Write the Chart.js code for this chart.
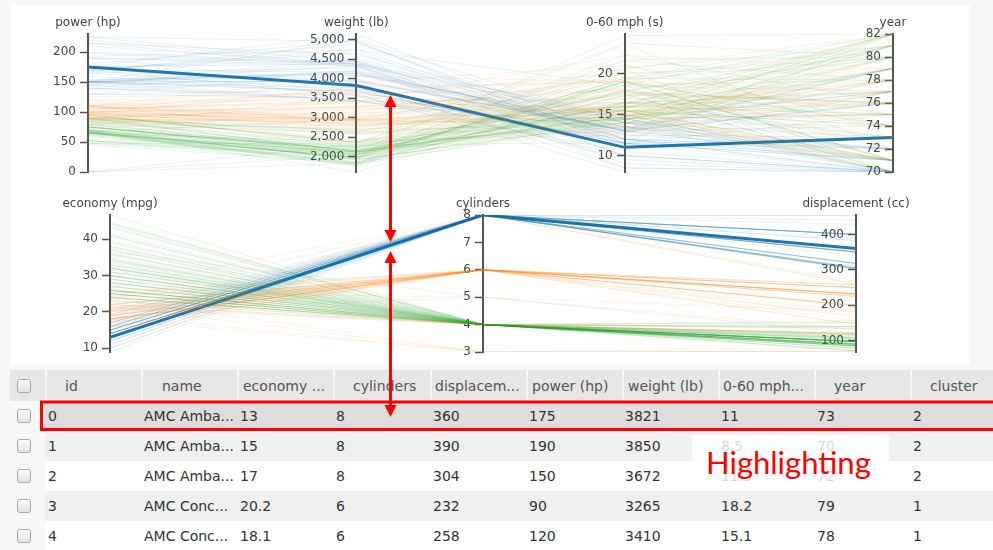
<!DOCTYPE html>
<html>
<head>
<meta charset="utf-8">
<script src="https://cdn.jsdelivr.net/npm/chart.js@4.4.1/dist/chart.umd.min.js"></script>
<style>
  html, body { margin: 0; padding: 0; }
  body {
    width: 993px; height: 550px; position: relative; overflow: hidden;
    background: #f7f7f7; font-family: "DejaVu Sans", Verdana, sans-serif;
  }
  #panel { position: absolute; left: 10px; top: 5px; width: 960px; height: 360px; background: #fff; }
  canvas { position: absolute; left: 0; }
  #topChart { top: 0; }
  #bottomChart { top: 185px; }
  #grid {
    position: absolute; left: 10px; top: 370px; border-collapse: collapse; table-layout: fixed;
    width: 996px; font-size: 14px; color: #333;
  }
  #grid th, #grid td { padding: 0; white-space: nowrap; overflow: hidden; text-align: left; font-weight: normal; }
  #grid th { height: 31px; background: #e6e6e6; color: #555; box-shadow: inset 2px 0 0 #f6f6f6; }
  #grid th:first-child { box-shadow: none; }
  #grid td { height: 30px; padding-left: 3px; background: #fff; }
  #grid tr.odd td { background: #f0f0f0; }
  #grid tr.sel td { background: #dedede; }
  #grid td.cb, #grid tr.sel td.cb, #grid tr.odd td.cb { background: #f7f7f7; padding-left: 0; }
  .box {
    width: 12px; height: 12px; margin-left: 7px; border: 1px solid #a8a8a8; border-radius: 3px;
    background: linear-gradient(#fdfdfd, #e2e2e2);
  }
  #note {
    position: absolute; left: 692px; top: 435px; width: 197px; height: 53px;
    background: rgba(255, 255, 255, 0.82);
  }
  #noteText {
    position: absolute; left: 706px; top: 447px; font-family: Lato, "Open Sans", sans-serif;
    font-size: 31px; line-height: 30px; color: #ff0000; white-space: nowrap;
  }
  #marks { position: absolute; left: 0; top: 0; pointer-events: none; }
</style>
</head>
<body>
<div id="panel"></div>
<canvas id="topChart" width="993" height="185"></canvas>
<canvas id="bottomChart" width="993" height="180"></canvas>
<table id="grid"><colgroup></colgroup><thead></thead><tbody></tbody></table>
<div id="note"></div>
<div id="noteText">Highlighting</div>
<svg id="marks" width="993" height="550">
  <rect x="41.5" y="402" width="1000" height="27.5" fill="none" stroke="#ff0000" stroke-width="3"/>
  <line x1="390.5" y1="106" x2="390.5" y2="231" stroke="#ff0000" stroke-width="3"/>
  <polygon points="390.5,95 384.5,107 396.5,107" fill="#ff0000"/>
  <polygon points="390.5,242 384.5,230 396.5,230" fill="#ff0000"/>
  <line x1="390.5" y1="262" x2="390.5" y2="406" stroke="#ff0000" stroke-width="3"/>
  <polygon points="390.5,251 384.5,263 396.5,263" fill="#ff0000"/>
  <polygon points="390.5,417 384.5,405 396.5,405" fill="#ff0000"/>
</svg>
<script>
// Cars: the same index refers to the same car in every array
const economy = [
  13, 15, 17, 20.2, 18.1, 24, 18, 27, 18, 15,
  26, 21, 14, 25, 14, 22, 9, 27, 14, 25,
  19, 10, 35, 16, 14, 31, 19, 13, 28, 18,
  12, 26, 21, 13, 23, 16, 15, 24, 18, 13,
  22, 24, 12, 32, 21, 11, 31, 20, 12, 26,
  15, 13, 24, 18, 16, 25, 21, 15, 29, 24,
  16, 29, 19, 17, 30, 22, 16, 31.5, 17.5, 15,
  33.5, 20.5, 16, 30, 21.5, 15.5, 36, 19.4, 19.2, 43.1,
  20.6, 20.2, 32.8, 20.3, 18.5, 39.4, 27.2, 16.5, 37.3, 25.4,
  17.6, 28.4, 23, 10, 31.9, 19.2, 11, 34.1, 17, 14,
  35.7, 26.6, 14, 41.5, 25.4, 13, 46.6, 24.2, 13, 44.3,
  22, 14, 43.4, 25, 15, 36.4, 21.5, 14, 40.8, 22,
  15, 44.6, 23.7, 15, 29.8, 23.6, 14, 40.9, 18, 16,
  34.4, 20, 29.9, 17, 33, 18, 37, 14, 32.3, 19,
  38, 13, 44, 22, 36, 32, 28, 31, 27, 38,
  34, 34.5, 23, 39, 25.8, 26, 28, 25, 24, 29,
  26, 30, 32, 28, 33, 25, 20, 18, 19, 16, 17
];
const cylinders = [
  8, 8, 8, 6, 6, 4, 8, 4, 6, 8,
  4, 6, 8, 4, 8, 6, 8, 4, 8, 4,
  6, 8, 4, 6, 8, 4, 3, 8, 4, 6,
  8, 4, 4, 8, 4, 6, 8, 4, 6, 8,
  4, 4, 8, 4, 6, 8, 4, 6, 8, 4,
  6, 8, 4, 6, 8, 4, 6, 8, 4, 6,
  8, 4, 6, 8, 4, 6, 8, 4, 6, 8,
  4, 6, 8, 4, 3, 8, 4, 6, 8, 4,
  6, 8, 4, 5, 8, 4, 4, 8, 4, 5,
  8, 4, 8, 8, 4, 8, 8, 4, 8, 8,
  4, 8, 8, 4, 6, 8, 4, 6, 8, 4,
  6, 8, 4, 6, 8, 5, 4, 8, 4, 4,
  8, 4, 3, 8, 4, 4, 8, 4, 3, 8,
  4, 6, 4, 8, 4, 6, 4, 8, 4, 6,
  4, 8, 4, 6, 4, 4, 4, 4, 4, 4,
  4, 4, 4, 4, 4, 4, 4, 4, 4, 4,
  4, 4, 4, 4, 4, 4, 6, 6, 6, 6, 6
];
const displacement = [
  360, 390, 304, 232, 258, 113, 307, 97, 199, 350,
  97, 200, 454, 110, 440, 198, 304, 97, 455, 98,
  250, 360, 72, 225, 351, 71, 70, 400, 116, 258,
  383, 96, 120, 350, 97, 250, 318, 116, 232, 400,
  108, 121, 400, 71, 200, 400, 79, 198, 455, 79,
  250, 350, 90, 225, 400, 90, 231, 350, 90, 200,
  318, 97, 156, 305, 97, 146, 318, 98, 250, 400,
  98, 231, 351, 111, 80, 350, 98, 232, 305, 90,
  231, 302, 78, 131, 360, 85, 119, 351, 91, 183,
  302, 151, 260, 307, 89, 267, 318, 86, 260, 400,
  98, 350, 318, 98, 168, 307, 86, 146, 400, 90,
  232, 400, 90, 181, 383, 121, 121, 340, 85, 121,
  400, 91, 70, 429, 89, 140, 351, 85, 70, 304,
  98, 225, 98, 302, 105, 250, 85, 304, 97, 232,
  105, 318, 97, 225, 135, 135, 120, 119, 140, 91,
  108, 100, 151, 86, 156, 116, 140, 104, 107, 85,
  98, 88, 83, 97, 91, 140, 232, 171, 250, 258, 231
];
const power = [
  175, 190, 150, 90, 120, 95, 130, 88, 97, 165,
  46, 85, 220, 87, 215, 95, 193, 60, 225, 0,
  88, 215, 69, 105, 153, 65, 97, 175, 90, 110,
  180, 69, 87, 165, 54, 100, 150, 75, 100, 190,
  94, 110, 167, 65, 88, 150, 67, 95, 225, 67,
  72, 145, 75, 95, 170, 71, 110, 145, 70, 81,
  150, 75, 108, 140, 67, 97, 150, 68, 110, 190,
  83, 105, 149, 80, 110, 170, 66, 90, 145, 48,
  105, 139, 52, 103, 150, 70, 97, 138, 69, 77,
  129, 90, 90, 200, 71, 125, 210, 65, 110, 175,
  80, 105, 150, 76, 116, 130, 65, 120, 170, 48,
  112, 175, 48, 110, 170, 67, 110, 160, 65, 98,
  150, 67, 100, 198, 62, 88, 153, 0, 90, 150,
  65, 100, 65, 140, 74, 88, 65, 150, 67, 100,
  63, 150, 52, 100, 84, 84, 79, 82, 86, 67,
  70, 0, 84, 64, 92, 75, 90, 95, 90, 52,
  79, 76, 61, 75, 53, 92, 100, 97, 100, 110, 110
];
const weight = [
  3821, 3850, 3672, 3265, 3410, 2372, 3504, 2130, 2774, 3693,
  1835, 2587, 4354, 2672, 4312, 2833, 4732, 1834, 4425, 2046,
  3302, 4615, 1613, 3439, 4154, 1773, 2330, 5140, 2123, 2962,
  4955, 2189, 2979, 4274, 2254, 3278, 4135, 2158, 2945, 4422,
  2379, 2660, 4906, 1836, 2875, 4997, 1950, 3102, 4951, 1963,
  3158, 3988, 2108, 3785, 4668, 2223, 3039, 4440, 1937, 3012,
  4498, 2171, 2930, 4215, 1985, 2815, 4190, 2045, 3520, 4325,
  2075, 3425, 4335, 2155, 2720, 4165, 1800, 3210, 3425, 1985,
  3380, 3570, 1985, 2830, 3940, 2070, 2300, 3955, 2130, 3530,
  3725, 2670, 3420, 4376, 1925, 3605, 4382, 1975, 4060, 4464,
  1915, 3725, 4096, 2144, 2900, 4098, 2110, 2930, 4746, 2085,
  2835, 4385, 2335, 2945, 3563, 2950, 2600, 3609, 2110, 2945,
  3761, 1850, 2420, 4341, 1845, 2905, 4129, 1835, 2124, 3433,
  2045, 3651, 2380, 3449, 2190, 3139, 1975, 3672, 2065, 2634,
  2125, 3940, 2130, 3233, 2370, 2295, 2625, 2720, 2790, 1995,
  2245, 2320, 3035, 1875, 2620, 2246, 2264, 2375, 2430, 2035,
  2255, 2065, 2003, 2155, 1795, 2572, 2914, 2984, 3282, 3632, 3907
];
const accel = [
  11, 8.5, 11.5, 18.2, 15.1, 15, 12, 14.5, 15.5, 11.5,
  20.5, 16, 9, 17.5, 8.5, 15.5, 18.5, 19, 10, 19,
  15.5, 14, 18, 15.5, 13.5, 19, 13.5, 12, 14, 13.5,
  11.5, 18, 19.5, 12, 23.5, 18, 13.5, 15.5, 16, 12.5,
  16.5, 14, 12.5, 21, 17, 14, 19, 16.5, 11, 15.5,
  19.5, 13, 15.5, 19, 11.5, 16.5, 15, 14, 14, 17.6,
  14.5, 16, 15.5, 13, 16.4, 14.5, 13, 18.5, 16.4, 12.2,
  15.9, 16.9, 14.5, 14.8, 13.5, 11.4, 14.4, 17.2, 13.2, 21.5,
  15.8, 12.8, 19.4, 15.9, 13, 18.6, 14.7, 13.2, 14.7, 20.1,
  13.4, 16, 22.2, 15, 14, 15, 13.5, 15.2, 19, 11.5,
  14.4, 19, 13, 14.7, 12.6, 14, 17.9, 13.8, 12, 21.7,
  14.7, 12, 23.7, 16.4, 10, 19.9, 12.8, 8, 19.2, 14.5,
  9.5, 13.8, 12.5, 10, 15.3, 14.3, 13, 17.3, 13.5, 12,
  16.2, 17.7, 20.7, 10.5, 14.2, 14.5, 19.4, 11.5, 17.8, 13,
  14.7, 13.2, 24.6, 15.4, 13, 11.6, 18.6, 19.4, 15.6, 16.2,
  16.9, 15.8, 20.5, 16.4, 14.4, 14, 15.5, 17.5, 14.5, 22.2,
  17.7, 14.5, 19, 16.4, 17.4, 14.9, 16, 14.5, 15, 18, 21
];
const year = [
  73, 70, 72, 79, 78, 70, 70, 70, 70, 70,
  70, 70, 70, 70, 70, 70, 70, 71, 70, 71,
  71, 70, 71, 71, 71, 71, 72, 71, 71, 71,
  71, 72, 72, 72, 72, 73, 72, 73, 73, 72,
  73, 73, 73, 74, 74, 73, 74, 74, 73, 74,
  75, 74, 74, 75, 75, 75, 75, 75, 76, 76,
  75, 75, 76, 76, 77, 77, 76, 77, 77, 77,
  77, 77, 77, 77, 77, 77, 78, 78, 78, 78,
  78, 78, 78, 78, 79, 78, 78, 79, 79, 79,
  79, 79, 79, 70, 79, 79, 70, 79, 77, 71,
  79, 81, 71, 80, 81, 72, 80, 81, 71, 80,
  82, 72, 80, 82, 70, 80, 77, 70, 80, 75,
  70, 80, 80, 70, 80, 80, 72, 80, 73, 70,
  81, 76, 81, 70, 81, 71, 81, 73, 81, 71,
  82, 76, 82, 76, 82, 82, 82, 82, 82, 82,
  82, 81, 82, 81, 81, 74, 71, 70, 70, 76,
  76, 71, 74, 76, 76, 76, 75, 75, 71, 74, 75
];
const cluster = [
  2, 2, 2, 1, 1, 0, 2, 0, 1, 2,
  0, 1, 2, 0, 2, 1, 2, 0, 2, 0,
  1, 2, 0, 1, 2, 0, 1, 2, 0, 1,
  2, 0, 1, 2, 0, 1, 2, 0, 1, 2,
  0, 1, 2, 0, 1, 2, 0, 1, 2, 0,
  1, 2, 0, 1, 2, 0, 1, 2, 0, 1,
  2, 0, 1, 2, 0, 1, 2, 0, 1, 2,
  0, 1, 2, 0, 1, 2, 0, 1, 2, 0,
  1, 2, 0, 1, 2, 0, 1, 2, 0, 1,
  2, 0, 1, 2, 0, 1, 2, 0, 1, 2,
  0, 1, 2, 0, 1, 2, 0, 1, 2, 0,
  1, 2, 0, 1, 2, 0, 1, 2, 0, 1,
  2, 0, 1, 2, 0, 1, 2, 0, 1, 2,
  0, 1, 0, 2, 0, 1, 0, 2, 0, 1,
  0, 2, 0, 1, 0, 0, 0, 0, 0, 0,
  0, 0, 1, 0, 0, 0, 0, 0, 0, 0,
  0, 0, 0, 0, 0, 0, 1, 1, 1, 1, 1
];
const carNames = ['AMC Amba...', 'AMC Amba...', 'AMC Amba...', 'AMC Conc...', 'AMC Conc...'];

// Axis domains and tick values
const powerRange = [0, 230];
const powerTicks = [0, 50, 100, 150, 200];
const weightRange = [1613, 5140];
const weightTicks = [2000, 2500, 3000, 3500, 4000, 4500, 5000];
const accelRange = [8, 24.8];
const accelTicks = [10, 15, 20];
const yearRange = [70, 82];
const yearTicks = [70, 72, 74, 76, 78, 80, 82];
const economyRange = [9, 46.6];
const economyTicks = [10, 20, 30, 40];
const cylinderRange = [3, 8];
const cylinderTicks = [3, 4, 5, 6, 7, 8];
const displacementRange = [68, 455];
const displacementTicks = [100, 200, 300, 400];

// Table columns and the rows it lists
const tableHeaders = ['id', 'name', 'economy ...', 'cylinders', 'displacem...', 'power (hp)', 'weight (lb)', '0-60 mph...', 'year', 'cluster'];
const tableRows = [0, 1, 2, 3, 4];
const selectedCar = 0;

const clusterRGB = ['44,160,44', '255,127,14', '31,119,180'];
const AXIS_FONT = '12px "DejaVu Sans", Verdana, sans-serif';

Chart.defaults.font.family = '"DejaVu Sans", Verdana, sans-serif';
Chart.defaults.font.size = 12;
Chart.defaults.color = '#444';

// Dimension names above the axes, tick labels to the left of each axis
const axisText = {
  id: 'axisText',
  beforeDatasetsDraw(chart, args, opts) {
    const { ctx, chartArea, scales } = chart;
    ctx.save();
    ctx.font = AXIS_FONT;
    ctx.fillStyle = '#444';
    ctx.textBaseline = 'middle';
    opts.titles.forEach((t, k) => {
      const s = scales['d' + k];
      const ax = scales.x.getPixelForValue(k);
      ctx.textAlign = 'right';
      s.ticks.forEach(tk => {
        const label = tk.label != null ? tk.label : tk.value.toLocaleString('en-US');
        ctx.fillText(label, ax - 12, s.getPixelForValue(tk.value));
      });
      ctx.textAlign = 'center';
      ctx.fillText(t, ax, chartArea.top - 11);
    });
    ctx.restore();
  }
};

// Parallel coordinates: every car is one polyline across the dimension axes.
// Values go onto a shared 0..1 scale using each axis's own domain.
function parallelChart(canvasId, dims, padding) {
  const order = economy.map((_, i) => i).filter(i => i !== selectedCar).concat([selectedCar]);
  const datasets = order.map(i => {
    const sel = i === selectedCar;
    return {
      data: dims.map((d, k) => ({ x: k, y: (d.values[i] - d.range[0]) / (d.range[1] - d.range[0]) })),
      borderColor: sel ? 'rgb(31,119,180)' : 'rgba(' + clusterRGB[cluster[i]] + ',0.1)',
      borderWidth: sel ? 3 : 1,
      pointRadius: 0,
      tension: 0,
      xAxisID: 'x',
      yAxisID: 'n'
    };
  });
  const scales = {
    x: { type: 'linear', min: 0, max: dims.length - 1, display: false },
    n: { type: 'linear', axis: 'y', min: 0, max: 1, display: false }
  };
  dims.forEach((d, k) => {
    scales['d' + k] = {
      type: 'linear', axis: 'y', position: { x: k },
      min: d.range[0], max: d.range[1],
      afterBuildTicks: s => { s.ticks = d.ticks.map(v => ({ value: v })); },
      grid: { drawOnChartArea: false, tickLength: 7, tickWidth: 1.5, tickColor: '#555' },
      border: { color: '#555', width: 2 },
      ticks: { display: false, autoSkip: false }
    };
  });
  return new Chart(document.getElementById(canvasId), {
    type: 'line',
    data: { datasets },
    options: {
      responsive: false,
      animation: false,
      events: [],
      locale: 'en-US',
      layout: { padding },
      scales,
      plugins: { legend: { display: false }, tooltip: { enabled: false }, axisText: { titles: dims.map(d => d.title) } }
    },
    plugins: [axisText]
  });
}

parallelChart('topChart', [
  { title: 'power (hp)', values: power, range: powerRange, ticks: powerTicks },
  { title: 'weight (lb)', values: weight, range: weightRange, ticks: weightTicks },
  { title: '0-60 mph (s)', values: accel, range: accelRange, ticks: accelTicks },
  { title: 'year', values: year, range: yearRange, ticks: yearTicks }
], { left: 88, right: 100, top: 34, bottom: 13 });

parallelChart('bottomChart', [
  { title: 'economy (mpg)', values: economy, range: economyRange, ticks: economyTicks },
  { title: 'cylinders', values: cylinders, range: cylinderRange, ticks: cylinderTicks },
  { title: 'displacement (cc)', values: displacement, range: displacementRange, ticks: displacementTicks }
], { left: 110, right: 137, top: 30, bottom: 13 });

// Data table below the charts
(function buildTable() {
  const widths = [35, 96, 96, 96, 97, 96, 96, 96, 96, 96, 96];
  const headPad = [20, 21, 6, 20, 5, 6, 6, 5, 20, 20];
  const grid = document.getElementById('grid');
  grid.querySelector('colgroup').innerHTML = widths.map(w => '<col style="width:' + w + 'px">').join('');
  grid.querySelector('thead').innerHTML = '<tr><th><div class="box"></div></th>' +
    tableHeaders.map((h, k) => '<th style="padding-left:' + headPad[k] + 'px">' + h + '</th>').join('') + '</tr>';
  grid.querySelector('tbody').innerHTML = tableRows.map((i, r) => {
    const cls = i === selectedCar ? 'sel' : (r % 2 === 1 ? 'odd' : '');
    const cells = [i, carNames[i], economy[i], cylinders[i], displacement[i], power[i], weight[i], accel[i], year[i], cluster[i]];
    return '<tr class="' + cls + '"><td class="cb"><div class="box"></div></td>' +
      cells.map(v => '<td>' + v + '</td>').join('') + '</tr>';
  }).join('');
})();
</script>
</body>
</html>
